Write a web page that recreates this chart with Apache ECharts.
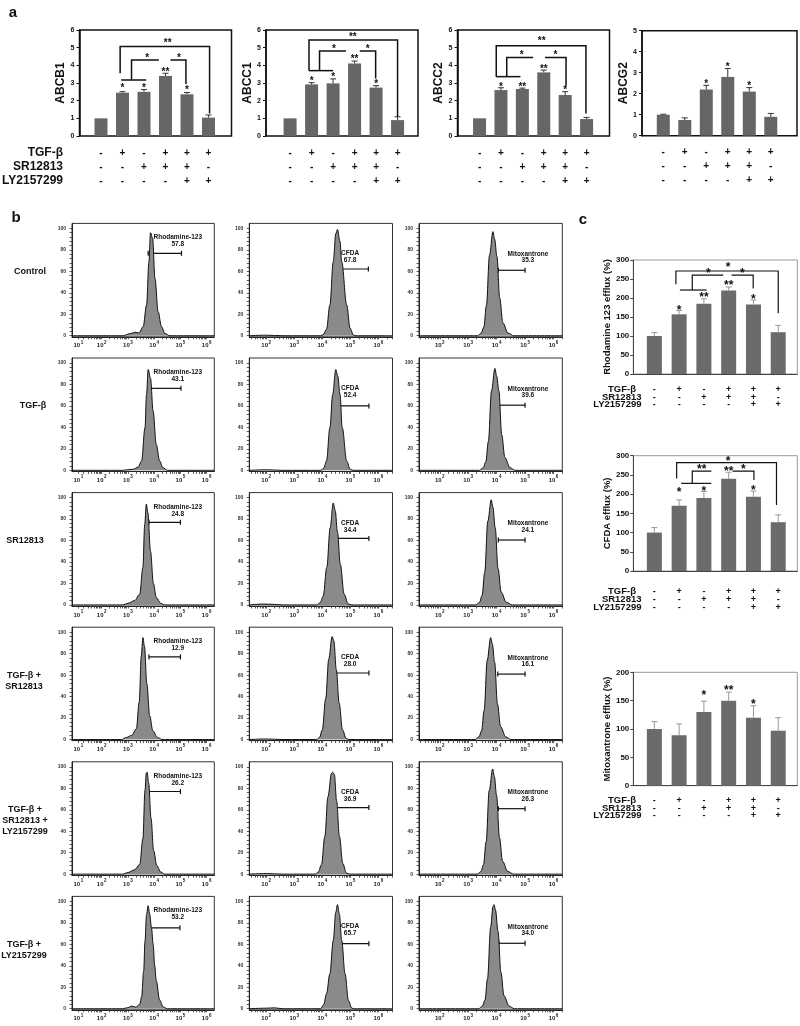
<!DOCTYPE html>
<html><head><meta charset="utf-8">
<script src="https://cdn.jsdelivr.net/npm/echarts@6/dist/echarts.min.js"></script>
<style>html,body{margin:0;padding:0;background:#fff}#c{width:800px;height:1026px}</style>
</head><body><div id="c"></div>
<script>
// ================= DATA =================
const treatTGFb = ['-','+','-','+','+','+'];
const treatSR   = ['-','-','+','+','+','-'];
const treatLY   = ['-','-','-','-','+','+'];
const treatRowLabels = ['TGF-β','SR12813','LY2157299'];

// panel a: relative mRNA expression
const abcb1Val = [1, 2.45, 2.5, 3.4, 2.36, 1.04];
const abcb1Err = [0, 0.06, 0.13, 0.15, 0.1, 0.15];
const abcb1Stars = ['', '*', '*', '**', '*', ''];
const abcb1StarY = [0, 2.83, 2.83, 3.74, 2.74, 0];
const abcb1Brackets = [
  {path:[[0.89,3.55],[0.89,5.06],[5.05,5.06],[5.05,1.28]], text:'**', at:[3.1,5.38]},
  {path:[[0.94,3.17],[2.1,3.17]]},
  {path:[[1.42,3.17],[1.42,4.3],[2.69,4.3]], text:'*', at:[2.15,4.55]},
  {path:[[3.23,4.3],[3.95,4.3],[3.95,2.95]], text:'*', at:[3.63,4.55]}
];
const abcc1Val = [1, 2.92, 2.98, 4.11, 2.74, 0.9];
const abcc1Err = [0, 0.1, 0.25, 0.13, 0.11, 0.19];
const abcc1Stars = ['', '*', '*', '**', '*', ''];
const abcc1StarY = [0, 3.25, 3.45, 4.45, 3.05, 0];
const abcc1Brackets = [
  {path:[[0.88,3.7],[0.88,5.43],[5.0,5.43],[5.0,1.09]], text:'**', at:[2.92,5.72]},
  {path:[[0.88,3.7],[2.0,3.7]]},
  {path:[[1.37,3.7],[1.37,4.81],[2.6,4.81]], text:'*', at:[2.04,5.03]},
  {path:[[3.24,4.81],[3.98,4.81],[3.98,3.25]], text:'*', at:[3.61,5.05]}
];
const abcc2Val = [1, 2.6, 2.66, 3.6, 2.32, 0.96];
const abcc2Err = [0, 0.13, 0.05, 0.13, 0.19, 0.09];
const abcc2Stars = ['', '*', '**', '**', '*', ''];
const abcc2StarY = [0, 2.89, 2.89, 3.9, 2.7, 0];
const abcc2Brackets = [
  {path:[[0.78,3.36],[0.78,5.11],[4.97,5.11],[4.97,1.28]], text:'**', at:[2.9,5.5]},
  {path:[[0.78,3.36],[1.91,3.36]]},
  {path:[[1.27,3.36],[1.27,4.45],[2.5,4.45]], text:'*', at:[1.97,4.68]},
  {path:[[3.06,4.45],[4.04,4.45],[4.04,2.85]], text:'*', at:[3.54,4.68]}
];
const abcg2Val = [1, 0.75, 2.2, 2.8, 2.1, 0.9];
const abcg2Err = [0.02, 0.1, 0.2, 0.4, 0.19, 0.16];
const abcg2Stars = ['', '', '*', '*', '*', ''];
const abcg2StarY = [0, 0, 2.57, 3.37, 2.44, 0];

// panel b: flow cytometry histograms (x = log10 fluorescence, y = % of max)
const rhodamineHist = [
  [[0.87,0],[2.8,0],[3.08,1.9],[3.27,3.2],[3.42,2.6],[3.58,8.4],[3.71,28.6],[3.80,69],[3.86,96],[3.94,90.8],[4.03,53.5],[4.15,22.4],[4.28,8.4],[4.41,2],[4.6,0],[6.29,0]],
  [[0.87,0],[2.8,0],[3.2,1],[3.39,3],[3.52,8.7],[3.65,39.7],[3.71,70.8],[3.77,94],[3.86,86],[3.96,55],[4.08,24],[4.21,8.7],[4.33,2.5],[4.5,0],[6.29,0]],
  [[0.87,0],[2.8,0],[3.0,1.5],[3.25,4],[3.45,10],[3.57,35],[3.64,75],[3.70,94],[3.76,86],[3.86,50],[3.97,20],[4.08,7],[4.25,1.5],[4.4,0],[6.29,0]],
  [[0.87,0],[2.75,0],[2.95,2],[3.15,4],[3.32,10],[3.43,35],[3.51,78],[3.57,95],[3.63,87],[3.72,52],[3.83,22],[3.95,8],[4.12,2],[4.3,0],[6.29,0]],
  [[0.87,0],[2.8,0],[3.0,1.5],[3.25,4],[3.45,9],[3.57,33],[3.65,78],[3.70,94],[3.73,95],[3.79,85],[3.88,52],[3.98,22],[4.1,8],[4.25,2],[4.4,0],[6.29,0]],
  [[0.87,0],[2.8,0],[3.0,1],[3.14,2.5],[3.3,1.5],[3.45,4],[3.52,11],[3.6,35],[3.65,63],[3.71,88],[3.77,96],[3.83,88],[3.9,75],[3.96,60],[4.02,40],[4.08,26],[4.21,8],[4.35,1.5],[4.5,0],[6.29,0]]
];
const cfdaHist = [
  [[1.4,0],[2.0,0.5],[2.6,0],[3.95,0],[4.03,1],[4.15,6],[4.27,28.6],[4.39,69],[4.48,95],[4.54,99],[4.63,88],[4.69,69],[4.87,28.6],[4.99,7],[5.11,0.5],[5.2,0],[6.5,0]],
  [[1.4,0],[2.0,0.5],[2.6,0],[3.95,0],[4.05,2],[4.15,8.7],[4.27,39.7],[4.37,70.8],[4.48,94],[4.55,88],[4.63,70.8],[4.71,39.7],[4.87,8.7],[4.99,1],[5.1,0],[6.5,0]],
  [[1.4,0],[1.9,0.8],[2.3,0.5],[2.6,0],[3.8,0],[3.92,2],[4.03,8],[4.16,35],[4.28,72],[4.39,95],[4.46,88],[4.54,68],[4.64,38],[4.78,10],[4.92,1],[5.05,0],[6.5,0]],
  [[1.4,0],[2.0,0.5],[2.6,0],[3.8,0],[3.9,2],[4.0,9],[4.12,38],[4.23,75],[4.35,96],[4.41,92],[4.5,65],[4.6,34],[4.72,9],[4.85,1],[4.95,0],[6.5,0]],
  [[1.4,0],[2.0,0.5],[2.6,0],[3.75,0],[3.86,2],[3.97,9],[4.09,35],[4.2,72],[4.33,94],[4.37,95],[4.43,93],[4.51,68],[4.61,35],[4.73,10],[4.86,1],[4.97,0],[6.5,0]],
  [[1.4,0],[2.0,0.5],[2.3,0.8],[2.6,0],[3.95,0],[4.05,4],[4.15,14],[4.27,32.6],[4.39,63.7],[4.48,90],[4.54,97],[4.61,88],[4.69,63.7],[4.81,32.6],[4.93,7.7],[5.05,0.5],[5.15,0],[6.5,0]]
];
const mitoHist = [
  [[1.27,0],[3.33,0],[3.46,2.5],[3.55,8],[3.64,28],[3.75,75],[3.87,97],[3.93,90],[4.01,74],[4.11,35],[4.22,12],[4.4,2.5],[4.6,0],[6.31,0]],
  [[1.27,0],[3.4,0],[3.53,2.5],[3.62,8],[3.71,27],[3.82,74],[3.94,95],[4.0,88],[4.08,74],[4.18,33],[4.29,12],[4.47,2.5],[4.65,0],[6.31,0]],
  [[1.27,0],[3.27,0],[3.4,2.5],[3.49,9],[3.58,30],[3.69,78],[3.81,98],[3.87,91],[3.95,72],[4.05,34],[4.16,12],[4.34,2.5],[4.55,0],[6.31,0]],
  [[1.27,0],[3.25,0],[3.38,2.5],[3.47,8],[3.56,27],[3.67,74],[3.79,95],[3.85,89],[3.93,72],[4.03,33],[4.14,12],[4.32,2.5],[4.5,0],[6.31,0]],
  [[1.27,0],[3.32,0],[3.45,2.5],[3.54,9],[3.63,30],[3.74,78],[3.86,98],[3.92,91],[4.0,73],[4.1,34],[4.21,12],[4.39,2.5],[4.6,0],[6.31,0]],
  [[1.27,0],[3.37,0],[3.5,2.5],[3.59,8],[3.68,28],[3.79,76],[3.87,95],[3.91,97],[3.96,92],[4.05,72],[4.15,34],[4.26,12],[4.44,2.5],[4.62,0],[6.31,0]]
];
const rhodaminePct = ['57.8','43.1','24.8','12.9','26.2','53.2'];
const cfdaPct      = ['67.8','52.4','34.4','28.0','36.9','65.7'];
const mitoPct      = ['35.3','39.6','24.1','16.1','26.3','34.0'];
const rhodamineGate = {x0:[3.77,3.84,3.8,3.8,3.8,3.71], x1:[5.04,5.02,5.0,5.0,5.0,4.98], y:[76.8,76.4,77,77,77,75.4]};
const cfdaGate      = {x0:[4.48,4.48,4.48,4.5,4.48,4.46], x1:[5.64,5.66,5.66,5.66,5.66,5.66], y:[62.2,60,62,62,62,60.6]};
const mitoGate      = {x0:[4.06,4.06,4.06,4.04,4.06,4.08], x1:[5.0,5.0,5.0,5.0,5.0,5.0], y:[61,60.7,60.5,61,61,61]};
const panelBRowLabels = ['Control','TGF-β','SR12813','TGF-β +\nSR12813','TGF-β +\nSR12813 +\nLY2157299','TGF-β +\nLY2157299'];

// panel c: efflux (%)
const rhoEffVal = [100, 157, 185, 220, 183, 110];
const rhoEffErr = [9, 10, 13, 9, 12, 18];
const rhoEffStars = ['', '*', '**', '**', '*', ''];
const rhoEffStarY = [0, 174.6, 208, 238.6, 203.5, 0];
const rhoEffBrackets = [
  {path:[[0.87,236],[0.87,271],[5.0,271],[5.0,160]], text:'*', at:[2.98,286]},
  {path:[[1.03,221],[2.11,221]]},
  {path:[[1.53,221],[1.53,260],[2.78,260]], text:'*', at:[2.18,270]},
  {path:[[3.12,260],[3.99,260],[3.99,225]], text:'*', at:[3.55,270]}
];
const cfdaEffVal = [100, 170, 190, 240, 193, 127];
const cfdaEffErr = [13, 15, 17, 17, 15, 19];
const cfdaEffStars = ['', '*', '*', '**', '*', ''];
const cfdaEffStarY = [0, 210.7, 212.5, 264.5, 216.8, 0];
const cfdaEffBrackets = [
  {path:[[0.9,241],[0.9,282],[4.93,282],[4.93,172]], text:'*', at:[2.98,292]},
  {path:[[1.08,228],[2.3,228]]},
  {path:[[1.53,228],[1.53,260],[2.3,260]], text:'**', at:[1.91,271]},
  {path:[[3.16,260],[4.02,260],[4.02,237]], text:'*', at:[3.59,270]}
];
const mitoEffVal = [100, 89, 130, 150, 120, 97];
const mitoEffErr = [13, 20, 19, 15, 21, 23];
const mitoEffStars = ['', '', '*', '**', '*', ''];
const mitoEffStarY = [0, 0, 162.9, 171.8, 148.2, 0];

// ================= BUILD =================
const FONT = '"Liberation Sans", Arial, Helvetica, sans-serif';
const grids = [], xAxes = [], yAxes = [], series = [], graphics = [];
const addGrid = g => (grids.push(g), grids.length - 1);
const addX = a => (xAxes.push(a), xAxes.length - 1);
const addY = a => (yAxes.push(a), yAxes.length - 1);

function gtext(x, y, str, opt) {
  graphics.push({type:'text', x, y, silent:true,
    style:Object.assign({text:str, fontFamily:FONT, fontWeight:'bold', fontSize:10, fill:'#111', align:'center', verticalAlign:'middle'}, opt || {})});
}

function textEl(p, str, fs, color) {
  return {type:'text', x:p[0], y:p[1] + 0.22 * fs,
    style:{text:str, fontFamily:FONT, fontWeight:'bold', fontSize:fs, fill:color, align:'center', verticalAlign:'middle'}};
}

function addBarChart(cfg) {
  const g = addGrid({left:cfg.left, top:cfg.top, width:cfg.width, height:cfg.height, show:true,
    borderColor:cfg.borderColor, borderWidth:cfg.borderWidth, backgroundColor:'rgba(0,0,0,0)'});
  const xi = addX({gridIndex:g, type:'value', min:cfg.xmin, max:cfg.xmax,
    axisLine:{show:cfg.xLine, onZero:false, lineStyle:{color:cfg.axisColor, width:cfg.axisWidth}},
    axisTick:{show:false}, splitLine:{show:false},
    axisLabel:{customValues:[0,1,2,3,4,5],
      formatter:v => { const i = Math.round(v); return treatTGFb[i] + '\n' + treatSR[i] + '\n' + treatLY[i]; },
      margin:cfg.signMargin, lineHeight:cfg.signLH, fontSize:cfg.signFS, fontWeight:'bold', color:'#111', fontFamily:FONT}});
  const yi = addY({gridIndex:g, type:'value', min:0, max:cfg.ymax, interval:cfg.yint,
    axisLine:{show:true, onZero:false, lineStyle:{color:cfg.axisColor, width:cfg.axisWidth}},
    axisTick:{show:true, length:3, lineStyle:{color:cfg.axisColor}},
    axisLabel:{fontSize:cfg.tickFS, fontWeight:'bold', color:'#111', margin:cfg.tickMargin, fontFamily:FONT},
    splitLine:{show:false},
    name:cfg.name, nameLocation:'middle', nameGap:cfg.nameGap, nameRotate:90,
    nameTextStyle:{fontSize:cfg.nameFS, fontWeight:'bold', color:'#111', fontFamily:FONT}});
  series.push({type:'bar', xAxisIndex:xi, yAxisIndex:yi, barWidth:cfg.barWidth, silent:true,
    data:cfg.values.map((v, i) => [i, v]), itemStyle:{color:cfg.barColor}});
  series.push({type:'custom', xAxisIndex:xi, yAxisIndex:yi, silent:true, clip:false,
    data:cfg.values.map((v, i) => [i, v, cfg.errs[i]]),
    renderItem:(params, api) => {
      const e = api.value(2); if (!e) return null;
      const p0 = api.coord([api.value(0), api.value(1)]);
      const p1 = api.coord([api.value(0), api.value(1) + e]);
      const st = {stroke:cfg.errColor, lineWidth:1};
      return {type:'group', children:[
        {type:'line', shape:{x1:p0[0], y1:p0[1], x2:p1[0], y2:p1[1]}, style:st},
        {type:'line', shape:{x1:p1[0]-cfg.errCap, y1:p1[1], x2:p1[0]+cfg.errCap, y2:p1[1]}, style:st}]};
    }});
  series.push({type:'custom', xAxisIndex:xi, yAxisIndex:yi, silent:true, clip:false,
    data:cfg.starY.map((y, i) => [i, y]),
    renderItem:(params, api) => {
      const s = cfg.stars[params.dataIndex]; if (!s) return null;
      return textEl(api.coord([api.value(0), api.value(1)]), s, cfg.starFS, '#111');
    }});
  if (cfg.brackets) {
    series.push({type:'custom', xAxisIndex:xi, yAxisIndex:yi, silent:true, clip:false,
      data:cfg.brackets.map(b => b.path[0]),
      renderItem:(params, api) => {
        const b = cfg.brackets[params.dataIndex];
        const ch = [{type:'polyline', shape:{points:b.path.map(p => api.coord(p))},
          style:{stroke:'#111', lineWidth:cfg.bracketLW, fill:null}}];
        if (b.text) ch.push(textEl(api.coord(b.at), b.text, cfg.starFS, '#111'));
        return {type:'group', children:ch};
      }});
  }
}

// ---- panel a ----
const aCommon = {top:30, height:106, ymax:6, yint:1, borderColor:'#111', borderWidth:1.5, axisColor:'#111', axisWidth:1.5,
  xLine:false, signMargin:10, signLH:14, signFS:10, tickFS:7, tickMargin:5, nameGap:11, nameFS:12,
  barWidth:13, barColor:'#666', errColor:'#333', errCap:3, starFS:10, bracketLW:1.5};
addBarChart(Object.assign({}, aCommon, {left:79.5, width:152, xmin:-1.0, xmax:6.07, name:'ABCB1',
  values:abcb1Val, errs:abcb1Err, stars:abcb1Stars, starY:abcb1StarY, brackets:abcb1Brackets}));
addBarChart(Object.assign({}, aCommon, {left:266, width:152, xmin:-1.12, xmax:5.95, name:'ABCC1',
  values:abcc1Val, errs:abcc1Err, stars:abcc1Stars, starY:abcc1StarY, brackets:abcc1Brackets}));
addBarChart(Object.assign({}, aCommon, {left:457.5, width:152, xmin:-1.03, xmax:6.07, name:'ABCC2',
  values:abcc2Val, errs:abcc2Err, stars:abcc2Stars, starY:abcc2StarY, brackets:abcc2Brackets}));
addBarChart(Object.assign({}, aCommon, {left:642, width:155, top:30.7, height:105, ymax:5, xmin:-0.99, xmax:6.22, name:'ABCG2',
  values:abcg2Val, errs:abcg2Err, stars:abcg2Stars, starY:abcg2StarY, brackets:null}));
treatRowLabels.forEach((t, k) => gtext(63, 153 + 14 * k, t, {align:'right', fontSize:12}));

// ---- panel c ----
const cCommon = {left:633.3, width:164, xmin:-0.85, xmax:5.77, borderColor:'#9a9a9a', borderWidth:1, axisColor:'#444', axisWidth:1,
  xLine:true, signLH:7.9, signFS:9, tickFS:8, tickMargin:4, nameGap:19.5, nameFS:9.5, yint:50,
  barWidth:15, barColor:'#6b6b6b', errColor:'#999', errCap:3, starFS:12, bracketLW:1.2};
addBarChart(Object.assign({}, cCommon, {top:260, height:114, ymax:300, signMargin:11.2, name:'Rhodamine 123 efflux (%)',
  values:rhoEffVal, errs:rhoEffErr, stars:rhoEffStars, starY:rhoEffStarY, brackets:rhoEffBrackets}));
addBarChart(Object.assign({}, cCommon, {top:455.7, height:115.3, ymax:300, signMargin:16.8, name:'CFDA efflux (%)',
  values:cfdaEffVal, errs:cfdaEffErr, stars:cfdaEffStars, starY:cfdaEffStarY, brackets:cfdaEffBrackets}));
addBarChart(Object.assign({}, cCommon, {top:672.3, height:113.4, ymax:200, signMargin:10.5, name:'Mitoxantrone efflux (%)',
  values:mitoEffVal, errs:mitoEffErr, stars:mitoEffStars, starY:mitoEffStarY, brackets:null}));
[[389, 396.9, 404.8], [591.7, 599.6, 607.5], [800, 807.9, 815.8]].forEach(rows => {
  rows.forEach((y, k) => gtext(k === 0 ? 636 : 641.5, y, treatRowLabels[k], {align:'right', fontSize:9.5}));
});

// ---- panel b ----
function minorTicks(min, max) {
  const out = [];
  for (let d = Math.floor(min); d <= Math.ceil(max); d++)
    for (let k = 2; k <= 9; k++) { const v = d + Math.log10(k); if (v > min && v < max) out.push(v); }
  return out;
}
const histCols = [
  {left:72, width:142.3, min:0.87, max:6.29, major:[1.11,2,3,4,5,6], data:rhodamineHist, name:'Rhodamine-123', pct:rhodaminePct, gate:rhodamineGate, tx:4.9, tyName:91.5, tyVal:85},
  {left:249.3, width:143.2, min:1.4, max:6.5, major:[2,3,4,5,6], data:cfdaHist, name:'CFDA', pct:cfdaPct, gate:cfdaGate, tx:4.99, tyName:76.5, tyVal:70},
  {left:419, width:143.3, min:1.27, max:6.31, major:[2,3,4,5,6], data:mitoHist, name:'Mitoxantrone', pct:mitoPct, gate:mitoGate, tx:5.1, tyName:76, tyVal:70}
];
const yMinor = [];
for (let v = 0; v <= 100; v += 4) yMinor.push(v);
histCols.forEach((col, c) => {
  const ticks = col.major.concat(minorTicks(col.min, col.max).filter(v => v > col.major[0] || c > 0));
  for (let r = 0; r < 6; r++) {
    const top = 223.4 + 134.6 * r;
    const g = addGrid({left:col.left, top, width:col.width, height:113.4, show:true, borderColor:'#333', borderWidth:1, backgroundColor:'rgba(0,0,0,0)'});
    const xi = addX({gridIndex:g, type:'value', min:col.min, max:col.max,
      axisLine:{show:true, onZero:false, lineStyle:{color:'#222', width:1}},
      axisTick:{show:true, customValues:ticks, length:2.5, lineStyle:{color:'#333', width:0.8}},
      splitLine:{show:false},
      axisLabel:{customValues:col.major, margin:3,
        formatter:v => '{b|10}{s|' + Math.round(v) + '}',
        rich:{b:{fontSize:6, fontWeight:'bold', color:'#222', fontFamily:FONT, lineHeight:9, verticalAlign:'bottom'},
              s:{fontSize:4.5, fontWeight:'bold', color:'#222', fontFamily:FONT, lineHeight:9, verticalAlign:'top', padding:[0,0,0,0.5]}}}});
    const yi = addY({gridIndex:g, type:'value', min:-1, max:104.7,
      axisLine:{show:true, onZero:false, lineStyle:{color:'#222', width:1}},
      axisTick:{show:true, customValues:yMinor, length:2.5, lineStyle:{color:'#333', width:0.8}},
      splitLine:{show:false},
      axisLabel:{customValues:[0,20,40,60,80,100], margin:6, fontSize:5, fontWeight:'bold', color:'#333', fontFamily:FONT}});
    series.push({type:'line', xAxisIndex:xi, yAxisIndex:yi, data:col.data[r], smooth:0.35, smoothMonotone:'x',
      symbol:'none', silent:true, lineStyle:{color:'#111', width:1}, areaStyle:{color:'#8a8a8a', opacity:1}});
    const gate = col.gate;
    series.push({type:'custom', xAxisIndex:xi, yAxisIndex:yi, silent:true, clip:false,
      data:[[gate.x0[r], gate.y[r]]],
      renderItem:(params, api) => {
        const a = api.coord([gate.x0[r], gate.y[r]]), b = api.coord([gate.x1[r], gate.y[r]]);
        const st = {stroke:'#111', lineWidth:1.2};
        const pn = api.coord([col.tx, col.tyName]), pv = api.coord([col.tx, col.tyVal]);
        const ts = {fontFamily:FONT, fontWeight:'bold', fontSize:6.5, fill:'#111', align:'center', verticalAlign:'middle'};
        return {type:'group', children:[
          {type:'line', shape:{x1:a[0], y1:a[1], x2:b[0], y2:b[1]}, style:st},
          {type:'line', shape:{x1:a[0], y1:a[1]-2.5, x2:a[0], y2:a[1]+2.5}, style:st},
          {type:'line', shape:{x1:b[0], y1:b[1]-2.5, x2:b[0], y2:b[1]+2.5}, style:st},
          {type:'text', x:pn[0], y:pn[1], style:Object.assign({text:col.name}, ts)},
          {type:'text', x:pv[0], y:pv[1], style:Object.assign({text:col.pct[r]}, ts)}]};
      }});
  }
});
const rowLabelX = [30, 33, 25, 24, 25, 24];
panelBRowLabels.forEach((t, r) => gtext(rowLabelX[r], 271.3 + 134.6 * r - 5.5, t, {fontSize:9, lineHeight:11, verticalAlign:'top'}));

// panel letters
gtext(13, 13, 'a', {fontSize:15});
gtext(16, 218, 'b', {fontSize:15});
gtext(583, 220, 'c', {fontSize:15});

const chart = echarts.init(document.getElementById('c'), null, {renderer:'canvas', width:800, height:1026});
chart.setOption({animation:false, backgroundColor:'#fff', grid:grids, xAxis:xAxes, yAxis:yAxes, series, graphic:{elements:graphics}});
</script>
</body></html>
